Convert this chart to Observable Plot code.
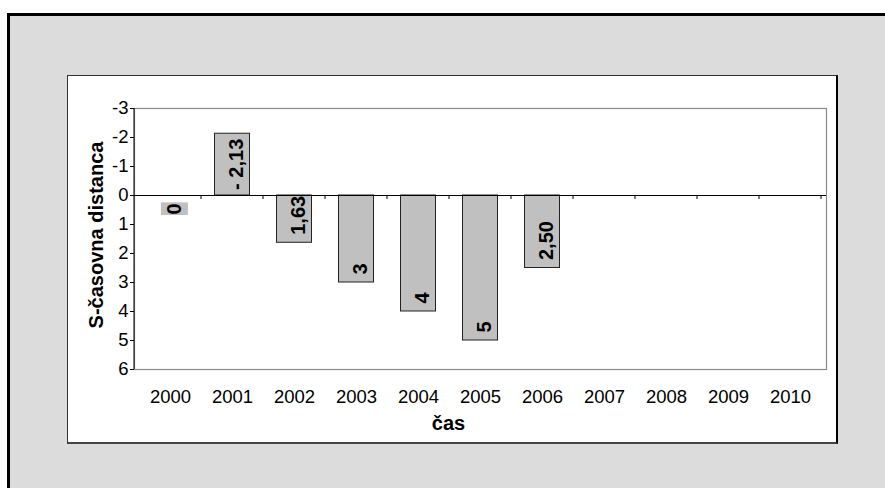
<!DOCTYPE html>
<html>
<head>
<meta charset="utf-8">
<script src="https://cdn.jsdelivr.net/npm/d3@7"></script>
<script src="https://cdn.jsdelivr.net/npm/@observablehq/plot@0.6"></script>
<style>
  html, body { margin: 0; padding: 0; background: #fff; }
  #wrap { position: relative; width: 885px; height: 488px; overflow: hidden; font-family: "Liberation Sans", Arial, sans-serif; }
  #outer { position: absolute; left: 7px; top: 13px; width: 900px; height: 500px; background: #dcdcdc; border-top: 3px solid #000; border-left: 3px solid #000; }
  #inner { position: absolute; left: 67px; top: 75px; width: 768px; height: 366px; background: #fff; border: 1px solid #333; border-right: 2px solid #000; border-bottom: 2px solid #444; }
  #chart { position: absolute; left: 0; top: 0; }
</style>
</head>
<body>
<div id="wrap">
  <div id="outer"></div>
  <div id="inner"></div>
  <div id="chart"></div>
</div>
<script>
const years = ["2000", "2001", "2002", "2003", "2004", "2005", "2006", "2007", "2008", "2009", "2010"];
const barYears = ["2000", "2001", "2002", "2003", "2004", "2005", "2006"];
const barValues = [0, -2.13, 1.63, 3, 4, 5, 2.5];
const barLabels = ["0", "- 2,13", "1,63", "3", "4", "5", "2,50"];
const yTicks = [-3, -2, -1, 0, 1, 2, 3, 4, 5, 6];
const xTitle = "čas";
const yTitle = "S-časovna distanca";

const FONT = '"Liberation Sans", Arial, sans-serif';
const data = barYears.map((year, i) => ({ year, value: barValues[i], label: barLabels[i] }));

// left axis line and category boundary ticks on the zero line
function axisDecor(index, scales, values, dims) {
  const x = scales.x, y = scales.y;
  const g = d3.create("svg:g");
  const left = dims.marginLeft, right = dims.width - dims.marginRight;
  const top = dims.marginTop, bottom = dims.height - dims.marginBottom;
  const bw = typeof x.bandwidth === "function" ? x.bandwidth() : (right - left) / years.length;
  const y0 = y(0);
  const edges = years.map(d => x(d)).concat([x(years[years.length - 1]) + bw]);
  g.selectAll("line.t").data(edges.slice(1)).join("line")
    .attr("x1", d => d).attr("x2", d => d)
    .attr("y1", y0).attr("y2", y0 + 4)
    .attr("stroke", "#000");
  g.append("line")
    .attr("x1", left).attr("x2", left).attr("y1", top).attr("y2", bottom)
    .attr("stroke", "#000");
  return g.node();
}

const labelStyle = { x: "year", y: "value", text: "label", rotate: -90, dx: 4, fontWeight: "bold", fontSize: 20, fill: "#000" };
const barOpts = { x: "year", y: "value", insetLeft: 13.5, insetRight: 13.5 };

const chart = Plot.plot({
  width: 885,
  height: 488,
  marginLeft: 134,
  marginRight: 59,
  marginTop: 108,
  marginBottom: 119,
  style: { background: "transparent", fontFamily: FONT, fontSize: "18.5px", color: "#000", overflow: "visible" },
  x: { domain: years, padding: 0, tickSize: 0, tickPadding: 20, label: null },
  y: { domain: [-3, 6], reverse: true, ticks: yTicks, tickFormat: d => String(d), tickSize: 4, tickPadding: 2, label: null },
  marks: [
    Plot.frame({ stroke: "#8a8a8a", strokeWidth: 1.2 }),
    Plot.barY(data, { ...barOpts, fill: "#c0c0c0" }),
    Plot.text(data.filter(d => d.value > 0), { ...labelStyle, textAnchor: "start", dy: -8 }),
    Plot.text(data.filter(d => d.value < 0), { ...labelStyle, textAnchor: "end", dy: 5 }),
    Plot.text(data.filter(d => d.value === 0), { ...labelStyle, textAnchor: "start", dy: 19 }),
    Plot.barY(data.filter(d => d.value !== 0), { ...barOpts, fill: "none", stroke: "#222", strokeWidth: 1 }),
    Plot.ruleY([0], { stroke: "#000" }),
    axisDecor,
    Plot.text([xTitle], { frameAnchor: "bottom", textAnchor: "middle", dx: -32, dy: 60, fontWeight: "bold", fontSize: 20, fill: "#000" }),
    Plot.text([yTitle], { frameAnchor: "left", textAnchor: "middle", rotate: -90, dx: -38, dy: -4, fontWeight: "bold", fontSize: 20, fill: "#000" })
  ]
});

document.getElementById("chart").append(chart);

// grey background box behind each bar label (as in the original)
const labelSet = new Set(barLabels);
d3.select(chart).selectAll('g[aria-label="text"] text').each(function () {
  if (!labelSet.has(this.textContent)) return;
  if (this.getAttribute("font-weight") !== "bold" && this.parentNode.getAttribute("font-weight") !== "bold") return;
  const b = this.getBBox();
  const r = document.createElementNS("http://www.w3.org/2000/svg", "rect");
  r.setAttribute("x", b.x - 0.5);
  r.setAttribute("y", b.y - 2);
  r.setAttribute("width", b.width + 1.5);
  r.setAttribute("height", b.height + 5);
  r.setAttribute("fill", "#c0c0c0");
  const t = this.getAttribute("transform");
  if (t) r.setAttribute("transform", t);
  this.parentNode.insertBefore(r, this);
});
</script>
</body>
</html>
